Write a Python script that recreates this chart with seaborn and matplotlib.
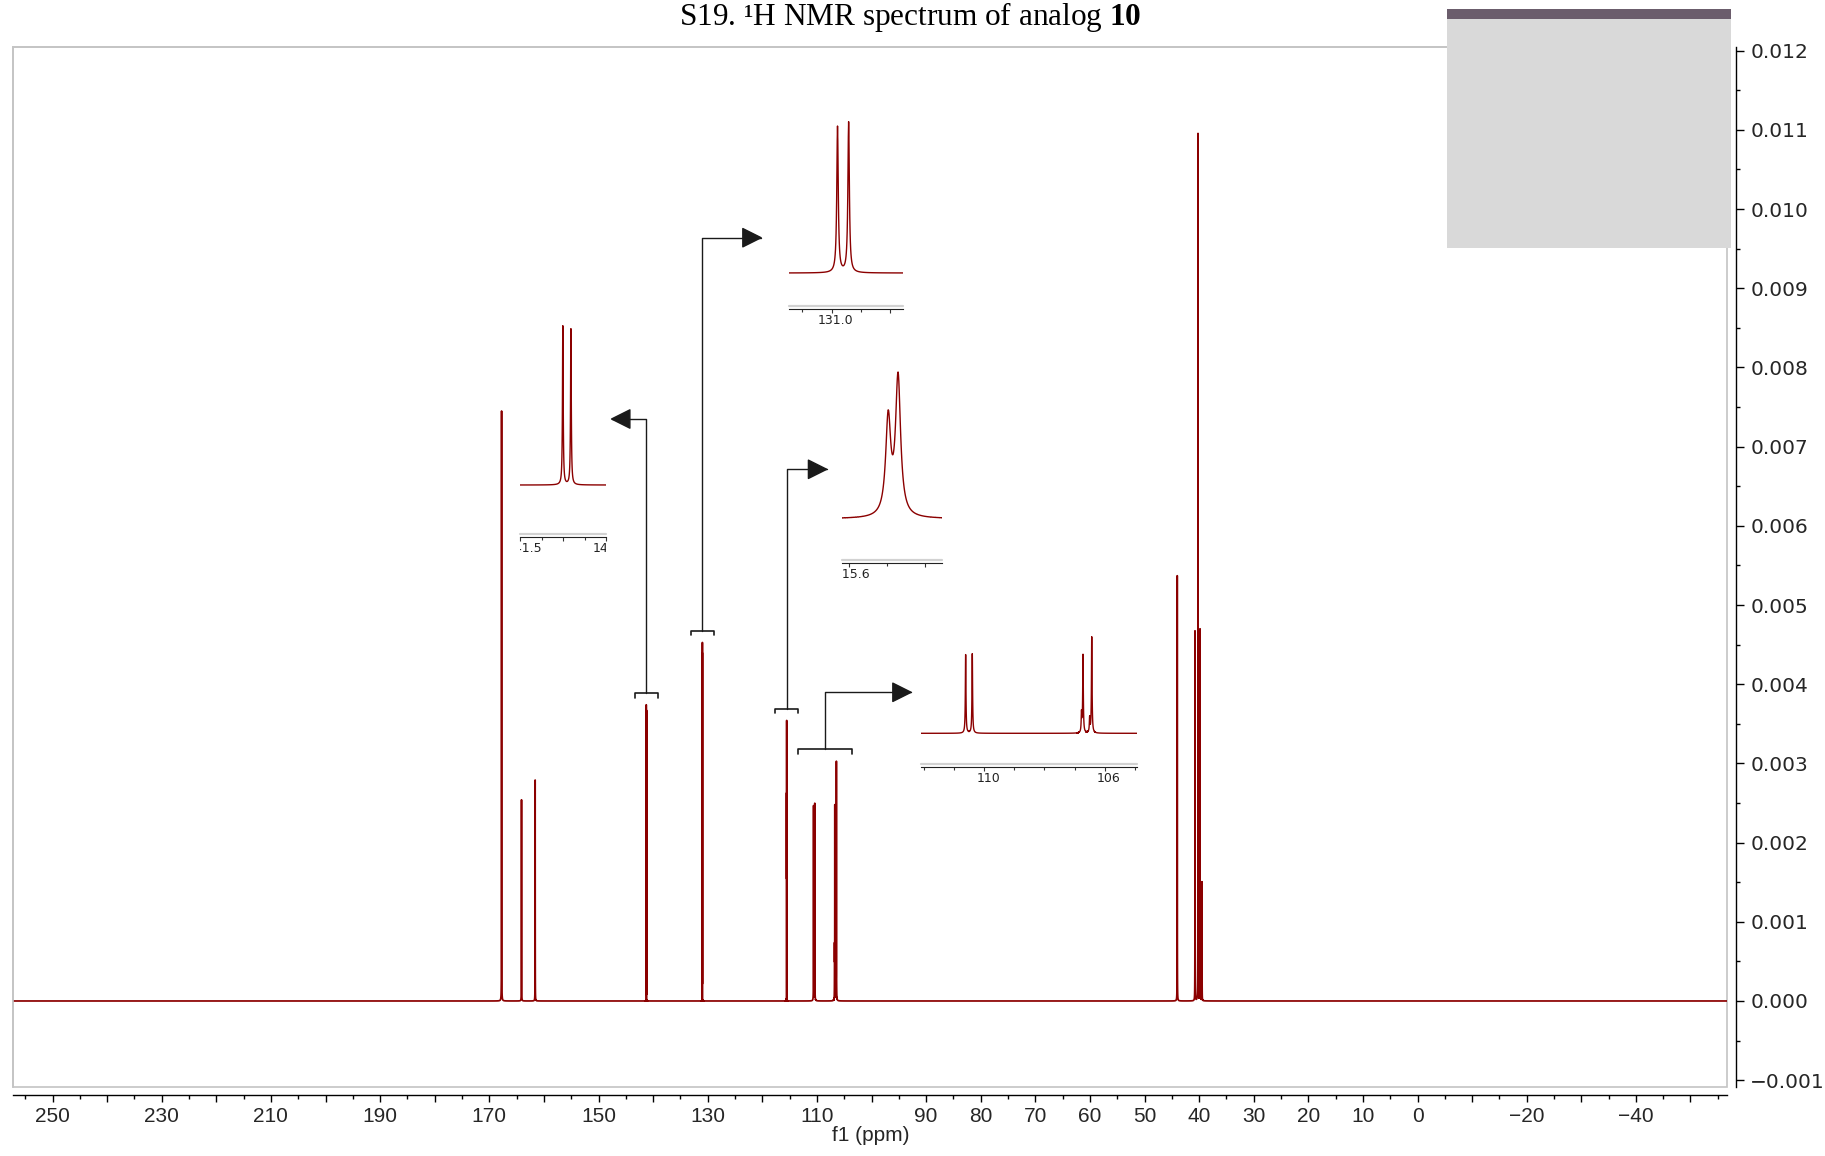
import numpy as np
import matplotlib
matplotlib.use("Agg")
import matplotlib.pyplot as plt
import seaborn as sns
from matplotlib.patches import Rectangle
from matplotlib.ticker import FixedLocator, FuncFormatter, NullFormatter
from matplotlib.transforms import Bbox, TransformedBbox, blended_transform_factory, offset_copy

# peaks: position (ppm), height, half width (ppm)
peak_ppm = [167.75, 164.1, 161.6,
            141.251, 141.204,
            130.990, 130.971,
            115.548, 115.535,
            110.61, 110.39, 106.77, 106.72, 106.50, 106.43,
            44.0, 40.75, 40.2, 39.83, 39.47]
peak_height = [7.45e-3, 2.54e-3, 2.79e-3,
               3.73e-3, 3.66e-3,
               4.37e-3, 4.50e-3,
               2.34e-3, 3.34e-3,
               2.46e-3, 2.49e-3, 0.60e-3, 2.44e-3, 0.45e-3, 3.01e-3,
               5.37e-3, 4.67e-3, 10.95e-3, 4.69e-3, 1.50e-3]
peak_hwhm = [0.01, 0.01, 0.01,
             0.0025, 0.0025,
             0.0015, 0.0015,
             0.004, 0.004,
             0.012, 0.012, 0.012, 0.012, 0.012, 0.012,
             0.01, 0.01, 0.01, 0.01, 0.01]

# axis ticks
x_major = list(range(250, -60, -10))
x_labelled = [250, 230, 210, 190, 170, 150, 130, 110, 90, 80, 70, 60, 50, 40, 30, 20, 10, 0, -20, -40]
y_major = [-0.001, 0.0, 0.001, 0.002, 0.003, 0.004, 0.005, 0.006, 0.007, 0.008, 0.009, 0.010, 0.011, 0.012]

# zoomed insets: ppm window, ticks and the tick labels
inset_xlim = [(141.434, 141.028), (131.073, 130.878), (115.609, 115.477), (112.09, 104.94)]
inset_major = [[141.5, 141.25, 141.0], [131.0, 130.9], [115.6, 115.5], [110, 106]]
inset_minor = [[141.375, 141.125], [131.05, 130.95], [115.55], [112, 111, 109, 108, 107, 105]]
inset_labels = [[(141.5, "141.5"), (141.0, "141.0")], [(131.0, "131.0")],
                [(115.6, "115.6")], [(110, "110"), (106, "106")]]

W, H = 1825, 1156
red = "#8b0000"
ink = "#1a1a1a"

sns.set_theme(style="white")
plt.rcParams["font.family"] = ["DejaVu Sans"]
plt.rcParams["mathtext.fontset"] = "custom"
plt.rcParams["mathtext.rm"] = "Liberation Serif"
plt.rcParams["mathtext.bf"] = "Liberation Serif:bold"
plt.rcParams["path.simplify"] = False

# spectrum = sum of lorentzian lines, sampled densely around every peak
grid = np.concatenate([np.linspace(257.5, -57.5, 8001)] +
                      [c + np.linspace(-0.2, 0.2, 801) for c in peak_ppm])
grid = np.unique(grid)[::-1]
spec = np.zeros_like(grid)
for c, h, g in zip(peak_ppm, peak_height, peak_hwhm):
    spec += h / (1 + ((grid - c) / g) ** 2)


def px_box(left, right, bottom, top):
    return [left / W, 1 - bottom / H, (right - left) / W, (bottom - top) / H]


fig = plt.figure(figsize=(W / 100, H / 100), dpi=100)
ax = fig.add_axes(px_box(13.3, 1727.3, 1087.3, 47.3))
sns.lineplot(x=grid, y=spec, ax=ax, color=red, linewidth=1.25, estimator=None, sort=False)
ax.set_xlim(257.18, -56.74)
ax.set_ylim(-0.00109, 0.012043)

# light frame + separate black axes (offset outward)
for s in ["left", "top"]:
    ax.spines[s].set_color("#c4c4c4")
    ax.spines[s].set_linewidth(1.2)
ax.add_patch(Rectangle((0, 0), 1, 1, transform=ax.transAxes, fill=False,
                       edgecolor="#c4c4c4", linewidth=1.2, clip_on=False))
ax.spines["bottom"].set_position(("outward", 5.5))
ax.spines["right"].set_position(("outward", 6))
for s in ["bottom", "right"]:
    ax.spines[s].set_color("black")
    ax.spines[s].set_linewidth(1.0)
    ax.spines[s].set_visible(True)

ax.xaxis.set_major_locator(FixedLocator(x_major))
ax.xaxis.set_minor_locator(FixedLocator([v - 5 for v in x_major] + [255]))
ax.xaxis.set_major_formatter(FuncFormatter(
    lambda v, p: (str(int(round(v))).replace("-", "\u2212") if int(round(v)) in x_labelled else "")))
ax.tick_params(axis="x", which="major", direction="out", length=5, width=1, color="black",
               bottom=True, labelsize=15, pad=4)
ax.tick_params(axis="x", which="minor", direction="out", length=3, width=1, color="black", bottom=True)
for lab in ax.get_xticklabels():
    lab.set_family("Liberation Sans")
ax.set_xlabel("f1 (ppm)", fontsize=15, family="Liberation Sans", labelpad=0)

ax.yaxis.tick_right()
ax.yaxis.set_major_locator(FixedLocator(y_major))
ax.yaxis.set_minor_locator(FixedLocator([v + 0.0005 for v in y_major[:-1]]))
ax.yaxis.set_major_formatter(FuncFormatter(lambda v, p: f"{round(v, 6) + 0.0:.3f}".replace("-", "\u2212")))
ax.tick_params(axis="y", which="major", direction="out", length=5.5, width=1, color="black",
               right=True, left=False, labelsize=14.5, pad=5)
ax.tick_params(axis="y", which="minor", direction="out", length=3, width=1, color="black",
               right=True, left=False)
ax.set_ylabel("")

# inset boxes in pixels: left, right, axis line, baseline, peak top
inset_px = [(520, 606, 536.7, 485, 325.7), (789, 903, 308.7, 273, 121.7),
            (842, 942, 563, 518.7, 372), (921, 1136.7, 766.7, 733.3, 636.7)]
tips = [(610, 419), (762.7, 237.7), (828.3, 469.3), (912.7, 692.3)]
half_w = [2.15, 2.15, 2.15, 4.9]

for i, (left, right, axis_y, base_y, top_y) in enumerate(inset_px):
    xl = inset_xlim[i]
    ai = fig.add_axes(px_box(left, right, axis_y, top_y - 4))
    sns.lineplot(x=grid, y=spec, ax=ai, color=red, linewidth=1.0, estimator=None, sort=False)
    inside = (grid <= xl[0]) & (grid >= xl[1])
    m = spec[inside].max()
    k = m / (base_y - top_y)
    ai.set_xlim(*xl)
    ai.set_ylim(-(axis_y - base_y) * k, m + 4 * k)
    ai.set_facecolor("none")
    for s in ["left", "right", "top"]:
        ai.spines[s].set_visible(False)
    ai.spines["bottom"].set_color("#222222")
    ai.spines["bottom"].set_linewidth(0.8)
    ai.plot([0, 1], [0, 0], transform=offset_copy(ai.transAxes, fig=fig, y=3, units="dots"),
            color="#d2d2d2", linewidth=1.6, clip_on=False)
    ai.set_yticks([])
    ai.set_xticks(inset_major[i])
    ai.set_xticks(inset_minor[i], minor=True)
    ai.xaxis.set_major_formatter(NullFormatter())
    ai.tick_params(axis="x", which="major", direction="out", length=3, width=0.8,
                   color="#333333", bottom=True)
    ai.tick_params(axis="x", which="minor", direction="out", length=2, width=0.8,
                   color="#333333", bottom=True)
    ai.set_xlabel("")
    ai.set_ylabel("")
    clip = TransformedBbox(Bbox([[0, -4], [1, 1]]), ai.transAxes)
    lab_tr = offset_copy(blended_transform_factory(ai.transData, ai.transAxes),
                         fig=fig, x=4, y=-5, units="dots")
    for val, txt in inset_labels[i]:
        fig.text(val, 0, txt, transform=lab_tr, ha="center", va="top", fontsize=9,
                 color="#222222", clip_on=True, clip_box=clip)

    # bracket over the zoomed peaks and the elbow arrow to the inset
    in_win = [c for c in peak_ppm if xl[1] <= c <= xl[0]]
    centre = (max(in_win) + min(in_win)) / 2
    bar = m + 0.15e-3
    w = half_w[i]
    ax.plot([centre + w, centre + w, centre - w, centre - w],
            [bar - 0.06e-3, bar, bar, bar - 0.06e-3], color=ink, linewidth=1.2)
    ax.annotate("", xy=(tips[i][0], H - tips[i][1]), xycoords="figure pixels",
                xytext=(centre, bar), textcoords="data", annotation_clip=False,
                arrowprops=dict(arrowstyle="-|>,head_length=1.1,head_width=0.55",
                                connectionstyle="angle,angleA=90,angleB=0,rad=0",
                                color=ink, linewidth=1.0, shrinkA=0, shrinkB=0))

fig.text(910.5 / W, 1 - 17 / H, "S19. \u00b9H NMR spectrum of analog $\\mathbf{10}$",
         ha="center", va="center", fontsize=22.5, family="Liberation Serif", color="black")

# grey block in the top right corner
fig.add_artist(Rectangle((1447 / W, 1 - 248 / H), 284 / W, 239 / H,
                         transform=fig.transFigure, facecolor="#d9d9d9", edgecolor="none"))
fig.add_artist(Rectangle((1447 / W, 1 - 18.5 / H), 284 / W, 9.5 / H,
                         transform=fig.transFigure, facecolor="#6b5d6c", edgecolor="none"))

fig.savefig("out.png", dpi=100)
